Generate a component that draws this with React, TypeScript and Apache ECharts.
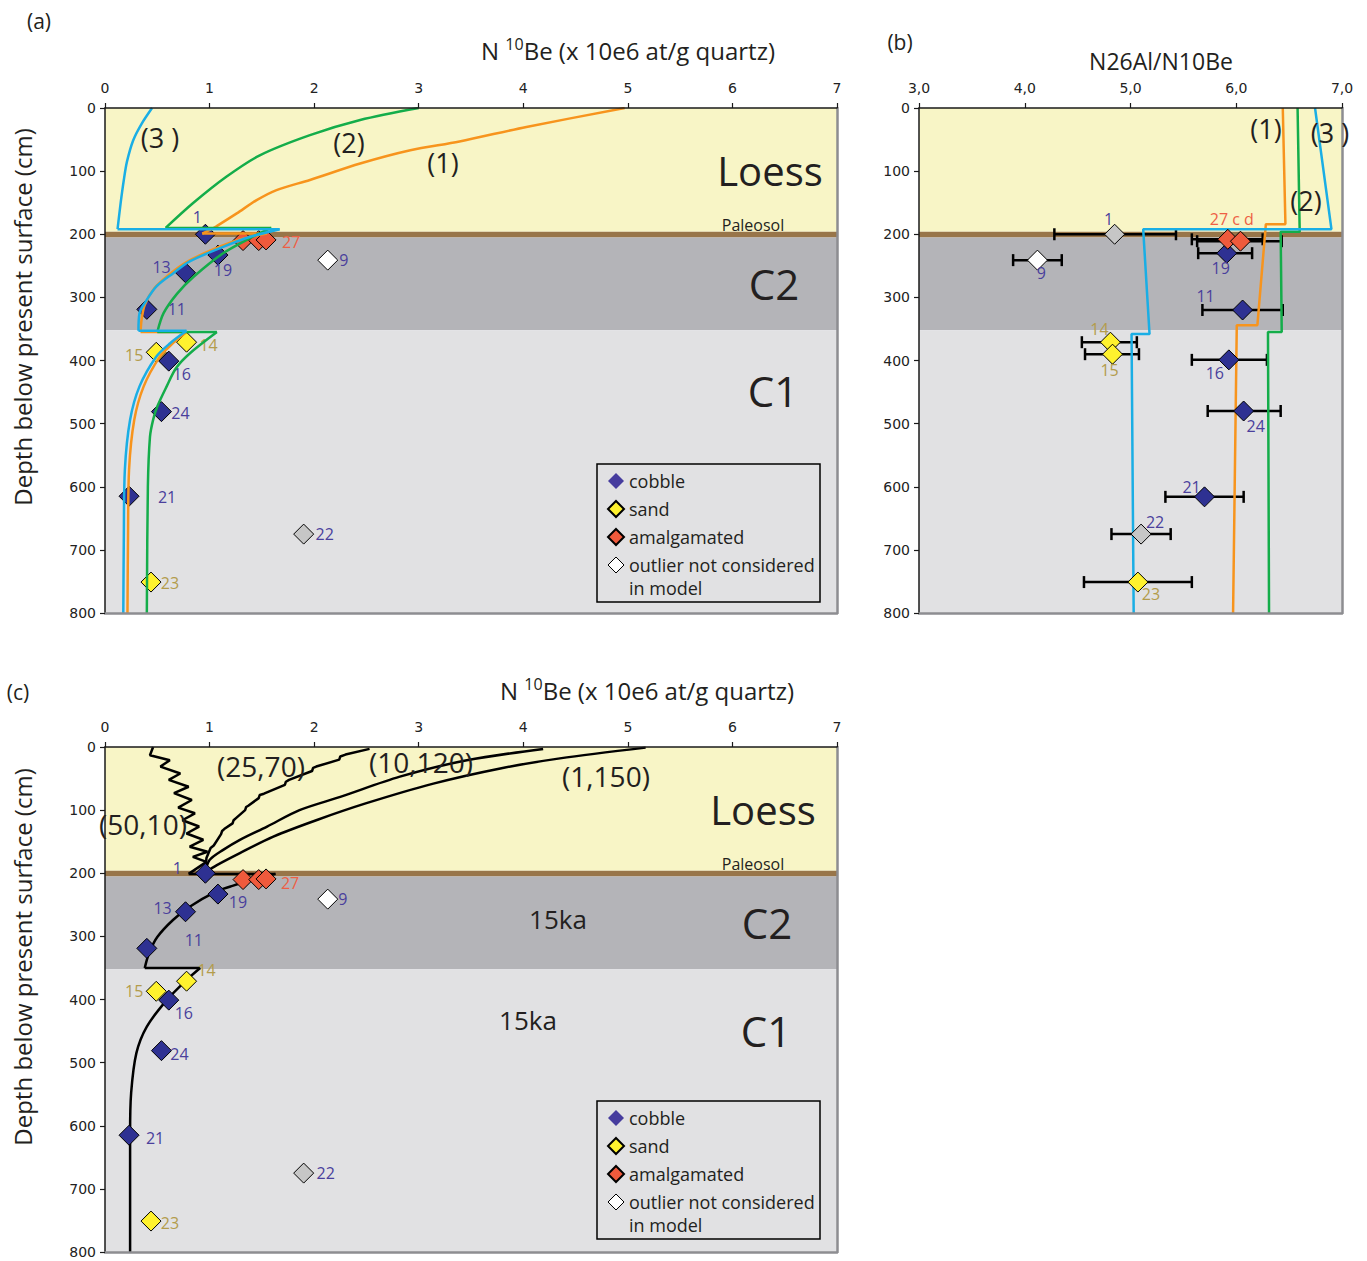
import React, { useEffect, useRef } from 'react';
import * as echarts from 'echarts';

// ---------------- panel (a) & (c): N 10Be (x10^6 at/g) versus depth (cm) ----------------
const cobbleIds = ['1', '19', '13', '11', '16', '24', '21'];
const cobbleBe = [0.96, 1.08, 0.77, 0.4, 0.61, 0.54, 0.23];
const cobbleDepth = [200, 233, 261, 319, 401, 481, 615];

const sandIds = ['14', '15', '23'];
const sandBe = [0.78, 0.49, 0.44];
const sandDepth = [371, 387, 751];

const amalgIds = ['27', '27', '27'];
const amalgBe = [1.32, 1.47, 1.54];
const amalgDepth = [210, 210, 209];

const outlierIds = ['9', '22'];
const outlierBe = [2.13, 1.9];
const outlierDepth = [241, 675];

// ---------------- panel (b): N26Al/N10Be ratio with error bars ----------------
const cobbleRIds = ['19', '11', '16', '24', '21'];
const cobbleRatio = [5.91, 6.06, 5.93, 6.07, 5.7];
const cobbleRDepth = [230, 320, 399, 480, 616];
const cobbleRLow = [5.64, 5.68, 5.58, 5.73, 5.33];
const cobbleRHigh = [6.15, 6.44, 6.29, 6.42, 6.07];

const sandRIds = ['14', '15', '23'];
const sandRatio = [4.81, 4.83, 5.07];
const sandRDepth = [371, 390, 751];
const sandRLow = [4.54, 4.57, 4.56];
const sandRHigh = [5.06, 5.08, 5.58];

const amalgRIds = ['27c', '27d'];
const amalgRatio = [5.92, 6.04];
const amalgRDepth = [208, 211];
const amalgRLow = [5.58, 5.63];
const amalgRHigh = [6.25, 6.43];

const outlierRIds = ['1', '9', '22'];
const outlierRatio = [4.85, 4.12, 5.1];
const outlierRDepth = [200, 241, 675];
const outlierRLow = [4.28, 3.89, 4.82];
const outlierRHigh = [5.43, 4.35, 5.38];

// ---------------- stratigraphy (depth of layer limits, cm) ----------------
const layerDepths = [0, 196, 205, 352, 800];

// ---------------- model curves, panel (a) ----------------
const model1Loess = [[4.97, 0], [4.03, 30], [3.39, 53], [2.92, 67], [2.44, 88], [1.96, 114], [1.64, 130], [1.45, 146], [1.26, 167], [1.07, 187], [1.02, 192], [0.93, 199]];
const model1Jump1 = [[0.93, 199], [1.55, 199]];
const model1C2 = [[1.55, 199], [1.3, 208], [1.05, 223], [0.78, 244], [0.62, 263], [0.47, 286], [0.38, 312], [0.35, 335], [0.34, 355]];
const model1Jump2 = [[0.34, 355], [0.78, 355]];
const model1C1 = [[0.78, 355], [0.64, 374], [0.52, 395], [0.37, 441], [0.28, 494], [0.23, 573], [0.22, 680], [0.215, 800]];

const model2Loess = [[3.0, 0], [2.44, 19], [1.96, 43], [1.48, 75], [1.16, 109], [0.84, 151], [0.58, 190]];
const model2Jump1 = [[0.58, 190], [1.59, 190]];
const model2C2 = [[1.59, 190], [1.4, 205], [1.13, 230], [0.85, 267], [0.69, 294], [0.56, 325], [0.5, 355]];
const model2Jump2 = [[0.5, 355], [1.07, 355]];
const model2C1 = [[1.07, 355], [0.81, 389], [0.68, 412], [0.59, 441], [0.5, 473], [0.46, 494], [0.43, 521], [0.41, 600], [0.4, 800]];

const model3Loess = [[0.45, 0], [0.35, 25], [0.27, 51], [0.21, 85], [0.18, 114], [0.15, 150], [0.12, 192]];
const model3Jump1 = [[0.12, 192], [1.67, 192]];
const model3C2 = [[1.67, 192], [1.39, 204], [1.13, 220], [0.81, 243], [0.65, 262], [0.49, 283], [0.38, 309], [0.33, 325], [0.32, 353]];
const model3Jump2 = [[0.32, 353], [0.78, 353]];
const model3C1 = [[0.78, 353], [0.62, 373], [0.49, 394], [0.33, 441], [0.24, 494], [0.19, 573], [0.18, 680], [0.175, 800]];

// ---------------- model ratios, panel (b) ----------------
const ratio1 = [[6.44, 0], [6.465, 184], [6.28, 184], [6.2, 344], [6.005, 344], [5.97, 800]];
const ratio2 = [[6.58, 0], [6.6, 196], [6.42, 196], [6.43, 355], [6.3, 355], [6.31, 800]];
const ratio3 = [[6.745, 0], [6.9, 192], [5.12, 192], [5.18, 358], [5.01, 358], [5.03, 800]];

// ---------------- model curves, panel (c) ----------------
const scen1_150 = [[5.17, 1], [4.35, 18], [3.78, 34], [3.14, 58], [2.5, 89], [2.02, 116], [1.61, 142], [1.29, 168], [1.07, 187], [0.96, 198]];
const scen10_120 = [[4.19, 3], [3.46, 21], [2.82, 47], [2.25, 79], [1.86, 100], [1.55, 126], [1.29, 147], [1.13, 163], [1.0, 179], [0.96, 198]];
const scen25_70 = [[2.53, 3], [2.3, 12], [2.25, 15], [2.24, 20], [2.02, 31], [1.99, 33], [1.98, 38], [1.76, 52], [1.73, 55], [1.72, 60], [1.52, 74], [1.48, 76], [1.47, 81], [1.37, 93], [1.35, 95], [1.34, 100], [1.25, 113], [1.23, 116], [1.22, 121], [1.14, 130], [1.12, 133], [1.11, 138], [1.04, 156], [1.01, 160], [0.97, 176], [0.96, 198]];
const scen50_10 = [[0.46, 0], [0.43, 13], [0.62, 21], [0.53, 31], [0.72, 42], [0.61, 52], [0.8, 63], [0.66, 73], [0.83, 84], [0.7, 96], [0.86, 105], [0.74, 116], [0.9, 126], [0.78, 137], [0.94, 147], [0.81, 158], [0.98, 166], [0.84, 174], [0.97, 182], [0.8, 201]];
const scenJump1 = [[0.8, 201], [1.63, 201]];
const scenC2 = [[1.63, 201], [1.39, 211], [1.2, 221], [1.06, 229], [0.81, 253], [0.65, 274], [0.5, 301], [0.42, 327], [0.38, 350]];
const scenJump2 = [[0.38, 350], [0.91, 350]];
const scenC1 = [[0.91, 350], [0.78, 369], [0.59, 401], [0.4, 443], [0.3, 485], [0.25, 548], [0.24, 612], [0.24, 800]];

// ---------------- styles ----------------
const FONT = '"Open Sans", "DejaVu Sans", sans-serif';
const TICKFONT = '"DejaVu Sans", Verdana, sans-serif';
const INK = '#231f20';
const layerColors = ['#f8f5c6', '#987549', '#b4b4b8', '#e1e1e3'];
const COBBLE = '#2e3192';
const SAND = '#fff22e';
const AMALG = '#ef5a3c';
const COBBLE_LABEL = '#4a3f9c';
const SAND_LABEL = '#b39c4c';
const AMALG_LABEL = '#ee5f45';
const ORANGE = '#f7941d';
const GREEN = '#14ad4a';
const BLUE = '#1aaee5';
const SYM = 20;
const outlierFill: Record<string, string> = { '1': '#c6c6c6', '9': '#ffffff', '22': '#c6c6c6' };

const labelOffA: Record<string, number[]> = {
  '1': [-8, -17], '19': [5, 15], '13': [-24, -6], '11': [30, 0], '16': [13, 13], '24': [19, 1],
  '21': [38, 1], '14': [22, 3], '15': [-22, 3], '23': [19, 1], '27': [25, 2], '9': [16, 0], '22': [21, 0],
};
const labelOffC: Record<string, number[]> = {
  '1': [-28, -5], '19': [20, 8], '13': [-23, -4], '11': [47, -8], '16': [15, 13], '24': [18, 3],
  '21': [26, 3], '14': [20, -11], '15': [-22, 0], '23': [19, 2], '27': [24, 4], '9': [15, 0], '22': [22, 0],
};
const labelOffB: Record<string, number[]> = {
  '1': [-6, -15], '27c': [4, -20], '19': [-6, 15], '9': [4, 13], '11': [-37, -14], '14': [-11, -13],
  '15': [-3, 16], '16': [-14, 13], '24': [12, 15], '21': [-13, -10], '22': [14, -12], '23': [13, 12],
};
const labelTextB: Record<string, string> = { '27c': '27 c d' };

function bandSeries(i: number) {
  const data: any[] = [];
  for (let k = 0; k < layerColors.length; k++) {
    data.push([
      { yAxis: layerDepths[k], itemStyle: { color: layerColors[k], opacity: 1 } },
      { yAxis: layerDepths[k + 1] },
    ]);
  }
  return {
    type: 'line', name: 'layers' + i, xAxisIndex: i, yAxisIndex: i, data: [], z: 0, silent: true,
    markArea: { silent: true, z: 0, label: { show: false }, data },
  };
}

function lineSeries(data: number[][], color: string, i: number, smooth: number | boolean, z: number) {
  return {
    type: 'line', xAxisIndex: i, yAxisIndex: i, data, symbol: 'none', smooth, silent: true, z,
    lineStyle: { color, width: 2.5 },
  };
}

function scatterSeries(
  name: string, ids: string[], xs: number[], ys: number[], i: number, size: number,
  fill: string, labelColor: string, offs: Record<string, number[]>, z: number,
  opts: { fills?: Record<string, string>; onlyLast?: boolean; texts?: Record<string, string> } = {}
) {
  const data = ids.map((id, k) => {
    const off = offs[id];
    const show = !!off && (!opts.onlyLast || k === ids.length - 1);
    const item: any = {
      name: id,
      value: [xs[k], ys[k]],
      label: show
        ? { show: true, offset: off, formatter: (opts.texts && opts.texts[id]) || id }
        : { show: false },
    };
    if (opts.fills && opts.fills[id]) item.itemStyle = { color: opts.fills[id] };
    return item;
  });
  return {
    type: 'scatter', name, xAxisIndex: i, yAxisIndex: i, symbol: 'diamond', symbolSize: size, z, silent: true,
    itemStyle: { color: fill, borderColor: '#000', borderWidth: 1, opacity: 1 },
    label: { show: true, position: 'inside', color: labelColor, fontSize: 16, fontFamily: FONT },
    data,
  };
}

function errorSeries(i: number, lows: number[], highs: number[], depths: number[]) {
  return {
    type: 'custom', xAxisIndex: i, yAxisIndex: i, z: 2, silent: true,
    encode: { x: [0, 1], y: 2 },
    data: lows.map((lo, k) => [lo, highs[k], depths[k]]),
    renderItem: (params: any, api: any) => {
      const a = api.coord([api.value(0), api.value(2)]);
      const b = api.coord([api.value(1), api.value(2)]);
      const h = 6;
      const st = { stroke: '#000', lineWidth: 2.5 };
      return {
        type: 'group',
        children: [
          { type: 'line', shape: { x1: a[0], y1: a[1], x2: b[0], y2: b[1] }, style: st },
          { type: 'line', shape: { x1: a[0], y1: a[1] - h, x2: a[0], y2: a[1] + h }, style: st },
          { type: 'line', shape: { x1: b[0], y1: b[1] - h, x2: b[0], y2: b[1] + h }, style: st },
        ],
      };
    },
  };
}

const axisDark = { color: '#1a1a1a', width: 1.5 };
const axisGray = { color: '#8d8d91', width: 2.5 };

function xTop(i: number, min: number, max: number, fmt?: (v: number) => string) {
  return {
    type: 'value', gridIndex: i, position: 'top', min, max, interval: 1, z: 10,
    axisLine: { show: true, onZero: false, lineStyle: axisDark },
    axisTick: { show: true, length: 5, lineStyle: { color: '#1a1a1a', width: 1.2 } },
    axisLabel: { fontFamily: TICKFONT, fontSize: 14, color: '#222', margin: 13, formatter: fmt },
    splitLine: { show: false },
  };
}
function xBottom(i: number, min: number, max: number) {
  return {
    type: 'value', gridIndex: i, position: 'bottom', min, max, z: 10,
    axisLine: { show: true, onZero: false, lineStyle: axisGray },
    axisTick: { show: false }, axisLabel: { show: false }, splitLine: { show: false },
  };
}
function yLeft(i: number) {
  return {
    type: 'value', gridIndex: i, position: 'left', inverse: true, min: 0, max: 800, interval: 100, z: 10,
    axisLine: { show: true, onZero: false, lineStyle: axisDark },
    axisTick: { show: true, length: 5, lineStyle: { color: '#1a1a1a', width: 1.2 } },
    axisLabel: { fontFamily: TICKFONT, fontSize: 14, color: '#222', margin: 9 },
    splitLine: { show: false },
  };
}
function yRight(i: number) {
  return {
    type: 'value', gridIndex: i, position: 'right', inverse: true, min: 0, max: 800, z: 10,
    axisLine: { show: true, onZero: false, lineStyle: axisGray },
    axisTick: { show: false }, axisLabel: { show: false }, splitLine: { show: false },
  };
}

function txt(text: string, x: number, y: number, size: number, extra: any = {}) {
  return {
    type: 'text', x, y, silent: true, z: 100, rotation: extra.rotation || 0,
    style: {
      text, fontSize: size, fontFamily: FONT, fill: INK, align: extra.align || 'center',
      verticalAlign: 'middle',
    },
  };
}
function beTitle(x: number, y: number) {
  return {
    type: 'text', x, y, silent: true, z: 100,
    style: {
      text: '{n|N }{s|10}{n|Be (x 10e6 at/g quartz)}', align: 'center', verticalAlign: 'middle',
      rich: {
        n: { fontSize: 24, fontFamily: FONT, fill: INK, lineHeight: 28 },
        s: { fontSize: 16, fontFamily: FONT, fill: INK, lineHeight: 18, verticalAlign: 'top' },
      },
    },
  };
}
function legendBox(x: number, y: number) {
  return [
    { type: 'rect', silent: true, z: 100, shape: { x, y, width: 223, height: 138 }, style: { fill: 'none', stroke: '#000', lineWidth: 1.5 } },
    txt('in model', x + 32, y + 124, 18, { align: 'left' }),
  ];
}
function legendAt(top: number) {
  return {
    left: 597, top, orient: 'vertical', padding: [8, 4, 4, 10], itemWidth: 16, itemHeight: 16, itemGap: 10,
    icon: 'diamond', selectedMode: false,
    textStyle: { fontFamily: FONT, fontSize: 18, color: INK },
    data: [
      { name: 'cobble', itemStyle: { color: '#463c9e', borderWidth: 0 } },
      { name: 'sand' },
      { name: 'amalgamated' },
      { name: 'outlier not considered', itemStyle: { color: '#ffffff', borderColor: '#000', borderWidth: 1 } },
    ],
  };
}

function buildOption() {
  const series: any[] = [];
  // ---- panel (a) : index 0
  series.push(bandSeries(0));
  series.push(scatterSeries('cobble', cobbleIds, cobbleBe, cobbleDepth, 0, SYM, COBBLE, COBBLE_LABEL, labelOffA, 2));
  series.push(scatterSeries('sand', sandIds, sandBe, sandDepth, 0, SYM, SAND, SAND_LABEL, labelOffA, 2));
  series.push(scatterSeries('amalgamated', amalgIds, amalgBe, amalgDepth, 0, SYM, AMALG, AMALG_LABEL, labelOffA, 2, { onlyLast: true }));
  series.push(scatterSeries('outlier not considered', outlierIds, outlierBe, outlierDepth, 0, SYM, '#ffffff', COBBLE_LABEL, labelOffA, 2, { fills: outlierFill }));
  const aSegs: [number[][], string][] = [
    [model1Loess, ORANGE], [model1Jump1, ORANGE], [model1C2, ORANGE], [model1Jump2, ORANGE], [model1C1, ORANGE],
    [model2Loess, GREEN], [model2Jump1, GREEN], [model2C2, GREEN], [model2Jump2, GREEN], [model2C1, GREEN],
    [model3Loess, BLUE], [model3Jump1, BLUE], [model3C2, BLUE], [model3Jump2, BLUE], [model3C1, BLUE],
  ];
  aSegs.forEach(([d, c]) => series.push(lineSeries(d, c, 0, d.length > 2 ? 0.3 : false, 3)));

  // ---- panel (b) : index 1
  series.push(bandSeries(1));
  series.push(errorSeries(1,
    [...cobbleRLow, ...sandRLow, ...amalgRLow, ...outlierRLow],
    [...cobbleRHigh, ...sandRHigh, ...amalgRHigh, ...outlierRHigh],
    [...cobbleRDepth, ...sandRDepth, ...amalgRDepth, ...outlierRDepth]));
  series.push(lineSeries(ratio1, ORANGE, 1, false, 3));
  series.push(lineSeries(ratio2, GREEN, 1, false, 3));
  series.push(lineSeries(ratio3, BLUE, 1, false, 3));
  series.push(scatterSeries('b-cobble', cobbleRIds, cobbleRatio, cobbleRDepth, 1, SYM, COBBLE, COBBLE_LABEL, labelOffB, 4));
  series.push(scatterSeries('b-sand', sandRIds, sandRatio, sandRDepth, 1, SYM, SAND, SAND_LABEL, labelOffB, 4));
  series.push(scatterSeries('b-amalgamated', amalgRIds, amalgRatio, amalgRDepth, 1, SYM, AMALG, AMALG_LABEL, labelOffB, 4, { texts: labelTextB }));
  series.push(scatterSeries('b-outlier', outlierRIds, outlierRatio, outlierRDepth, 1, SYM, '#ffffff', COBBLE_LABEL, labelOffB, 4, { fills: outlierFill }));

  // ---- panel (c) : index 2
  series.push(bandSeries(2));
  const cSegs: [number[][], number | boolean][] = [
    [scen1_150, 0.3], [scen10_120, 0.3], [scen25_70, false], [scen50_10, false],
    [scenJump1, false], [scenC2, 0.3], [scenJump2, false], [scenC1, 0.3],
  ];
  cSegs.forEach(([d, s]) => series.push(lineSeries(d, '#000000', 2, s, 2)));
  series.push(scatterSeries('cobble', cobbleIds, cobbleBe, cobbleDepth, 2, SYM, COBBLE, COBBLE_LABEL, labelOffC, 3));
  series.push(scatterSeries('sand', sandIds, sandBe, sandDepth, 2, SYM, SAND, SAND_LABEL, labelOffC, 3));
  series.push(scatterSeries('amalgamated', amalgIds, amalgBe, amalgDepth, 2, SYM, AMALG, AMALG_LABEL, labelOffC, 3, { onlyLast: true }));
  series.push(scatterSeries('outlier not considered', outlierIds, outlierBe, outlierDepth, 2, SYM, '#ffffff', COBBLE_LABEL, labelOffC, 3, { fills: outlierFill }));

  const ratioFmt = (v: number) => v.toFixed(1).replace('.', ',');

  const graphic: any[] = [
    // panel (a)
    txt('(a)', 39, 21, 21),
    beTitle(628, 50),
    txt('Depth below present surface (cm)', 22, 317, 24, { rotation: Math.PI / 2 }),
    txt('(3 )', 160, 137, 27), txt('(2)', 349, 142, 27), txt('(1)', 443, 162, 27),
    txt('Loess', 770, 170, 40), txt('Paleosol', 753, 225, 16), txt('C2', 774, 283, 42), txt('C1', 773, 390, 42),
    ...legendBox(597, 464),
    // panel (b)
    txt('(b)', 900, 42, 21),
    txt('N26Al/N10Be', 1161, 61, 23),
    txt('(1)', 1266, 128, 27), txt('(3 )', 1330, 132, 27), txt('(2)', 1306, 200, 27),
    // panel (c)
    txt('(c)', 18, 692, 21),
    beTitle(647, 690),
    txt('Depth below present surface (cm)', 22, 957, 24, { rotation: Math.PI / 2 }),
    txt('(25,70)', 261, 766, 28), txt('(10,120)', 421, 762, 28), txt('(1,150)', 606, 776, 28), txt('(50,10)', 143, 824, 28),
    txt('Loess', 763, 809, 40), txt('Paleosol', 753, 864, 16), txt('C2', 767, 922, 42), txt('C1', 766, 1030, 42),
    txt('15ka', 558, 919, 26), txt('15ka', 528, 1020, 26),
    ...legendBox(597, 1101),
  ];

  return {
    animation: false,
    backgroundColor: '#ffffff',
    grid: [
      { left: 105, top: 108, width: 732, height: 505 },
      { left: 919, top: 108, width: 423, height: 505 },
      { left: 105, top: 747, width: 732, height: 505 },
    ],
    xAxis: [xTop(0, 0, 7), xTop(1, 3, 7, ratioFmt), xTop(2, 0, 7), xBottom(0, 0, 7), xBottom(1, 3, 7), xBottom(2, 0, 7)],
    yAxis: [yLeft(0), yLeft(1), yLeft(2), yRight(0), yRight(1), yRight(2)],
    legend: [legendAt(464), legendAt(1101)],
    series,
    graphic,
  };
}

export default function App() {
  const ref = useRef<HTMLDivElement>(null);
  useEffect(() => {
    if (!ref.current) return;
    const chart = echarts.init(ref.current, undefined, { renderer: 'svg' });
    chart.setOption(buildOption() as any);
    return () => chart.dispose();
  }, []);
  return (
    <div
      ref={ref}
      style={{ position: 'absolute', left: 0, top: 0, width: 1367, height: 1261, background: '#fff' }}
    />
  );
}
